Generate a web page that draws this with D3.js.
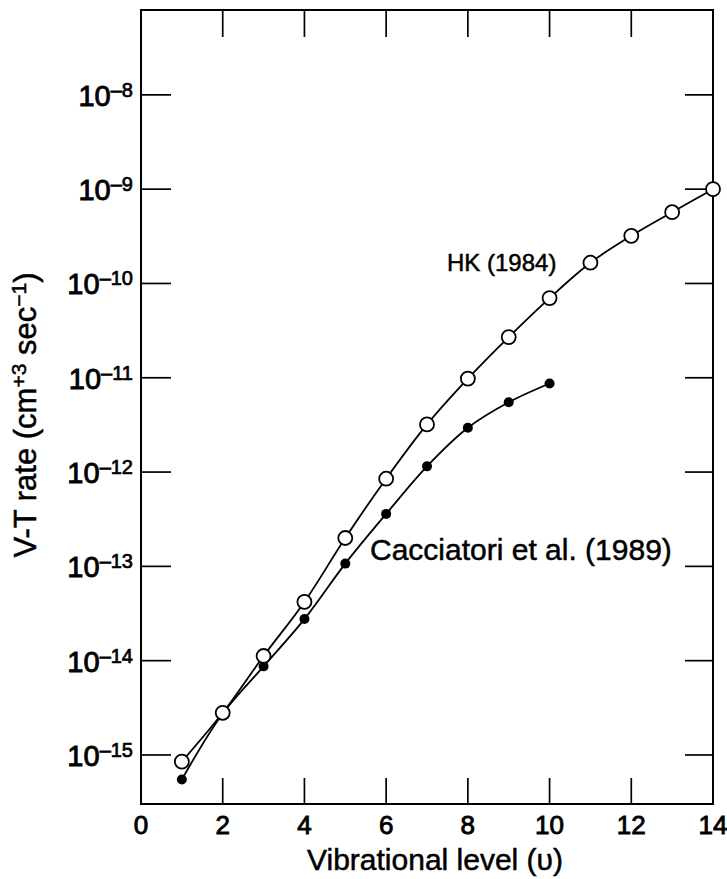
<!DOCTYPE html>
<meta charset="utf-8">
<style>
body { margin: 0; background: #fff; }
text { font-family: "Liberation Sans", Arial, Helvetica, sans-serif; fill: #000; stroke: #000; stroke-width: 0.5px; }
.tick-label { font-size: 26px; stroke-width: 0.9px; }
.frame { fill: none; stroke: #000; stroke-width: 2px; }
.tick { stroke: #000; stroke-width: 1.7px; }
.curve { fill: none; stroke: #000; stroke-width: 1.8px; }
</style>
<svg width="727" height="879"></svg>
<script src="https://cdn.jsdelivr.net/npm/d3@7/dist/d3.min.js"></script>
<script>

// vibrational levels
var levelsHK = [1, 2, 3, 4, 5, 6, 7, 8, 9, 10, 11, 12, 13, 14];
var levelsCac = [1, 2, 3, 4, 5, 6, 7, 8, 9, 10];

// V-T rates, cm^3 sec^-1
var ratesHK = [8.5e-16, 2.8e-15, 1.12e-14, 4.2e-14, 2.0e-13, 8.5e-13, 3.2e-12, 9.8e-12,
               2.7e-11, 7.0e-11, 1.66e-10, 3.2e-10, 5.7e-10, 1.0e-9];
var ratesCac = [5.5e-16, 2.75e-15, 8.7e-15, 2.76e-14, 1.07e-13, 3.6e-13, 1.15e-12,
                2.95e-12, 5.5e-12, 8.7e-12];

var xTicks = [2, 4, 6, 8, 10, 12];
var xLabels = [0, 2, 4, 6, 8, 10, 12, 14];
var yExps = [-8, -9, -10, -11, -12, -13, -14, -15];

var svg = d3.select("svg");

var x = d3.scaleLinear().domain([0, 14]).range([141, 713]);
var y = d3.scaleLog().domain([Math.pow(10, -15.52), Math.pow(10, -7.1)]).range([804, 10]);

var x0 = x.range()[0], x1 = x.range()[1],
    yb = y.range()[0], yt = y.range()[1];

// frame
svg.append("rect")
    .attr("class", "frame")
    .attr("x", x0).attr("y", yt)
    .attr("width", x1 - x0).attr("height", yb - yt);

// x ticks, top and bottom, pointing inward
svg.selectAll(".xtb").data(xTicks).enter().append("line")
    .attr("class", "tick")
    .attr("x1", function(d) { return x(d); }).attr("x2", function(d) { return x(d); })
    .attr("y1", yb).attr("y2", yb - 26);
svg.selectAll(".xtt").data(xTicks).enter().append("line")
    .attr("class", "tick")
    .attr("x1", function(d) { return x(d); }).attr("x2", function(d) { return x(d); })
    .attr("y1", yt).attr("y2", yt + 27);

// y ticks, left and right
svg.selectAll(".ytl").data(yExps).enter().append("line")
    .attr("class", "tick")
    .attr("x1", x0).attr("x2", x0 + 30)
    .attr("y1", function(d) { return y(Math.pow(10, d)); })
    .attr("y2", function(d) { return y(Math.pow(10, d)); });
svg.selectAll(".ytr").data(yExps).enter().append("line")
    .attr("class", "tick")
    .attr("x1", x1 - 28).attr("x2", x1)
    .attr("y1", function(d) { return y(Math.pow(10, d)); })
    .attr("y2", function(d) { return y(Math.pow(10, d)); });

// x tick labels
svg.selectAll(".xl").data(xLabels).enter().append("text")
    .attr("class", "tick-label")
    .attr("x", function(d) { return x(d); })
    .attr("y", yb + 30)
    .attr("text-anchor", "middle")
    .text(function(d) { return d; });

// y tick labels 10^n
var yl = svg.selectAll(".yl").data(yExps).enter().append("text")
    .attr("class", "tick-label")
    .attr("x", x0 - 8)
    .attr("y", function(d) { return y(Math.pow(10, d)) + 11; })
    .attr("text-anchor", "end")
    .style("font-size", "29px");
yl.append("tspan").text("10");
yl.append("tspan")
    .attr("dy", -9)
    .style("font-size", "20px")
    .style("stroke-width", "0.7px")
    .text(function(d) { return "\u2013" + Math.abs(d); });

// axis titles
svg.append("text")
    .attr("x", (x0 + x1) / 2 + 8)
    .attr("y", 870)
    .attr("text-anchor", "middle")
    .style("font-size", "30px")
    .text("Vibrational level (\u03c5)");

var yt2 = svg.append("text")
    .attr("transform", "translate(36,415) rotate(-90)")
    .attr("text-anchor", "middle")
    .style("font-size", "31px");
yt2.append("tspan").text("V-T rate (cm");
yt2.append("tspan").attr("dy", -10).style("font-size", "21px").text("+3");
yt2.append("tspan").attr("dy", 10).text(" sec");
yt2.append("tspan").attr("dy", -10).style("font-size", "21px").text("\u22121");
yt2.append("tspan").attr("dy", 10).text(")");

// curves
var line = d3.line()
    .x(function(d) { return x(d[0]); })
    .y(function(d) { return y(d[1]); })
    .curve(d3.curveCatmullRom);

var hk = d3.zip(levelsHK, ratesHK);
var cac = d3.zip(levelsCac, ratesCac);

svg.append("path").attr("class", "curve").attr("d", line(cac));
svg.append("path").attr("class", "curve").attr("d", line(hk));

svg.selectAll(".cac").data(cac).enter().append("circle")
    .attr("cx", function(d) { return x(d[0]); })
    .attr("cy", function(d) { return y(d[1]); })
    .attr("r", 5)
    .attr("fill", "#000");

svg.selectAll(".hk").data(hk).enter().append("circle")
    .attr("cx", function(d) { return x(d[0]); })
    .attr("cy", function(d) { return y(d[1]); })
    .attr("r", 7)
    .attr("fill", "#fff")
    .attr("stroke", "#000")
    .attr("stroke-width", 1.8);

// series labels
svg.append("text")
    .attr("x", 447).attr("y", 271)
    .style("font-size", "24px")
    .text("HK (1984)");

svg.append("text")
    .attr("x", 370).attr("y", 560)
    .style("font-size", "30px")
    .text("Cacciatori et al. (1989)");

</script>
